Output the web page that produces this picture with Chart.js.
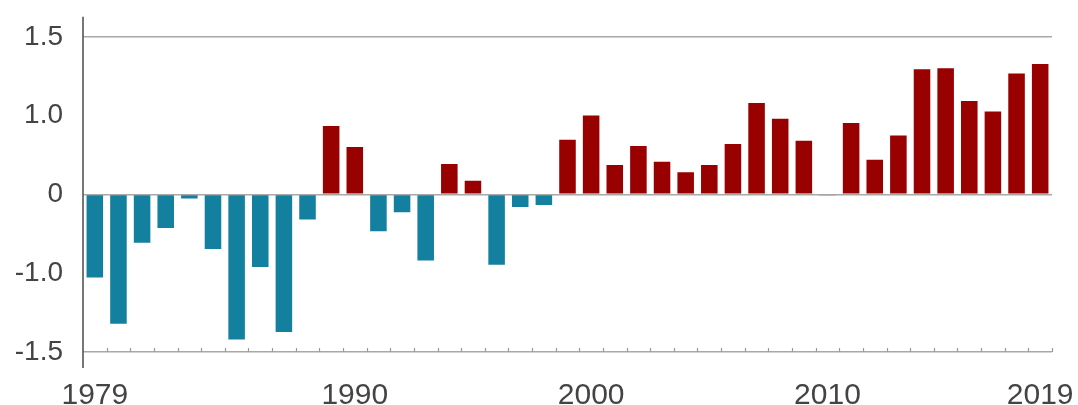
<!DOCTYPE html>
<html>
<head>
<meta charset="utf-8">
<script src="https://cdn.jsdelivr.net/npm/chart.js@4"></script>
<style>
  html, body { margin: 0; padding: 0; background: #fff; }
  #wrap { width: 1078px; height: 405px; }
</style>
</head>
<body>
<div id="wrap"><canvas id="chart"></canvas></div>
<script>
// years 1979..2019
const years = [
  "1979","1980","1981","1982","1983","1984","1985","1986","1987","1988",
  "1989","1990","1991","1992","1993","1994","1995","1996","1997","1998",
  "1999","2000","2001","2002","2003","2004","2005","2006","2007","2008",
  "2009","2010","2011","2012","2013","2014","2015","2016","2017","2018","2019"
];
const anomalies = [
  -0.79, -1.23, -0.46, -0.32, -0.04, -0.52, -1.38, -0.69, -1.31, -0.24,
  0.65, 0.45, -0.35, -0.17, -0.63, 0.29, 0.13, -0.67, -0.12, -0.10,
  0.52, 0.75, 0.28, 0.46, 0.31, 0.21, 0.28, 0.48, 0.87, 0.72,
  0.51, -0.01, 0.68, 0.33, 0.56, 1.19, 1.20, 0.89, 0.79, 1.15, 1.24
];
const shownYears = ["1979", "1990", "2000", "2010", "2019"];
const yTickValues = [-1.5, -0.75, 0, 0.75, 1.5];
const yTickLabels = ["-1.5", "-1.0", "0", "1.0", "1.5"];
const gridValues = [-1.5, 0, 1.5];

const BLUE = "#14809f";
const RED = "#990000";

// axis line on the left + small ticks on the bottom axis
const axisDecor = {
  id: "axisDecor",
  afterDraw(chart) {
    const ctx = chart.ctx;
    const area = chart.chartArea;
    const x = chart.scales.x;
    ctx.save();
    ctx.strokeStyle = "#9a9a9a";
    ctx.lineWidth = 1.2;
    const step = (x.getPixelForValue(1) - x.getPixelForValue(0));
    for (let i = 1; i <= years.length; i++) {
      const px = Math.round(x.getPixelForValue(i) - step / 2) + 0.5;
      ctx.beginPath();
      ctx.moveTo(px, area.bottom);
      ctx.lineTo(px, area.bottom - 4);
      ctx.stroke();
    }
    ctx.strokeStyle = "#555";
    ctx.lineWidth = 1.6;
    ctx.beginPath();
    ctx.moveTo(area.left, area.top - 20);
    ctx.lineTo(area.left, area.bottom + 16);
    ctx.stroke();
    ctx.restore();
  }
};

new Chart(document.getElementById("chart"), {
  type: "bar",
  data: {
    labels: years,
    datasets: [{
      data: anomalies,
      backgroundColor: anomalies.map(v => v < 0 ? BLUE : RED),
      borderWidth: 0,
      barPercentage: 0.7,
      categoryPercentage: 1.0
    }]
  },
  options: {
    responsive: true,
    maintainAspectRatio: false,
    animation: false,
    layout: { padding: { left: 0, right: 26, top: 35, bottom: 0 } },
    plugins: {
      legend: { display: false },
      tooltip: { enabled: false }
    },
    scales: {
      x: {
        offset: true,
        grid: { display: false, drawTicks: false },
        border: { display: false },
        ticks: {
          autoSkip: false,
          maxRotation: 0,
          padding: 26,
          color: "#444",
          font: { family: "'Liberation Sans', Arial, sans-serif", size: 30 },
          callback: function (val) {
            const lab = this.getLabelForValue(val);
            return shownYears.includes(lab) ? lab : "";
          }
        },
        afterFit: (s) => {
          s.height = 53;
          s.paddingLeft = 0;
          s.paddingRight = 0;
        }
      },
      y: {
        min: -1.5,
        max: 1.5,
        afterBuildTicks: (s) => { s.ticks = yTickValues.map(v => ({ value: v })); },
        afterFit: (s) => { s.width = 83; },
        grid: {
          drawTicks: false,
          lineWidth: 1.6,
          color: (c) => gridValues.includes(c.tick.value) ? "#a8a8a8" : "rgba(0,0,0,0)"
        },
        border: { display: false },
        ticks: {
          padding: 20,
          color: "#444",
          font: { family: "'Liberation Sans', Arial, sans-serif", size: 28 },
          callback: (v) => yTickLabels[yTickValues.indexOf(v)]
        }
      }
    }
  },
  plugins: [axisDecor]
});
</script>
</body>
</html>
